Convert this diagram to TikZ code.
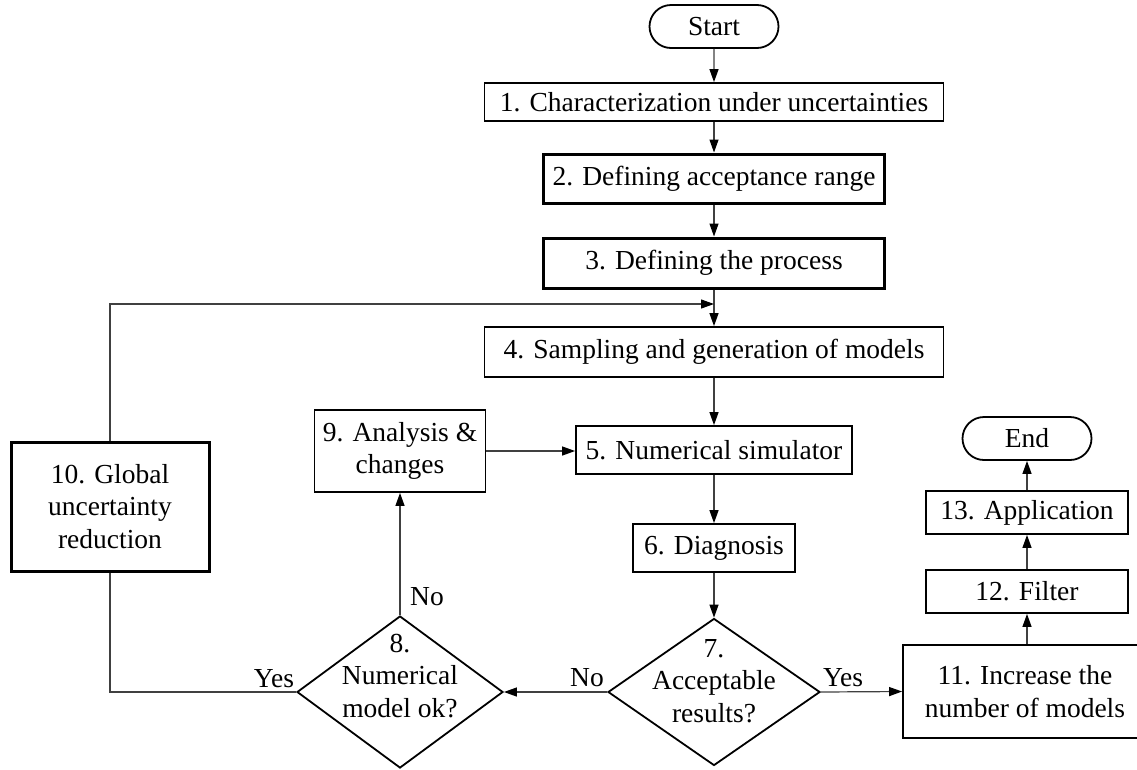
\documentclass[tikz,border=0pt]{standalone}
\usepackage{fontspec}
\setmainfont{Liberation Serif}
\usetikzlibrary{shapes.misc,shapes.geometric,arrows.meta}
\begin{document}
\begin{tikzpicture}[x=1pt,y=-1pt,
  every node/.style={font=\fontsize{27.5}{32.5}\selectfont},
  box/.style={draw, line width=1.8pt, rectangle, inner sep=0pt, align=center},
  thickbox/.style={box, line width=3pt},
  term/.style={draw, line width=1.8pt, rounded rectangle, inner sep=0pt},
  dia/.style={draw, line width=1.8pt, diamond, inner sep=0pt},
  conn/.style={line width=1.2pt, draw=black!75},
  arr/.style={conn, -{Triangle[length=13pt,width=9pt,color=black]}},
  lab/.style={anchor=base, inner sep=0pt},
]
\useasboundingbox (0,0) rectangle (1137,769);
\clip (0,0) rectangle (1137,769);

% central column
\node[term, minimum width=129pt, minimum height=43pt] (start) at (714,26.5) {Start};
\node[box, minimum width=459pt, minimum height=38pt] (b1) at (714,102) {1. Characterization under uncertainties};
\node[thickbox, minimum width=341pt, minimum height=49pt] (b2) at (714,178.5) {2. Defining acceptance range};
\node[thickbox, minimum width=341pt, minimum height=50pt] (b3) at (714,263) {3. Defining the process};
\node[box, minimum width=459pt, minimum height=50pt] (b4) at (714,352) {4. Sampling and generation of models};
\node[box, minimum width=276pt, minimum height=48pt] (b5) at (714,450) {5. Numerical simulator};
\node[box, minimum width=162pt, minimum height=48pt] (b6) at (714,548) {6. Diagnosis};
\node[dia, minimum width=212pt, minimum height=147pt,
      label={[name=d7t, align=center, yshift=11pt, inner sep=0pt]center:{7.\\Acceptable\\results?}}] (d7) at (714,692) {};

% left part
\node[dia, minimum width=206pt, minimum height=152pt,
      label={[name=d8t, align=center, yshift=16pt, inner sep=0pt]center:{8.\\Numerical\\model ok?}}] (d8) at (400,692) {};
\node[box, minimum width=171pt, minimum height=82pt] (b9) at (400,451) {9. Analysis \&\\changes};
\node[thickbox, minimum width=198pt, minimum height=129pt] (b10) at (110,506.5) {10. Global\\uncertainty\\reduction};

% right column
\node[box, minimum width=244pt, minimum height=93pt] (b11) at (1025,691.5) {11. Increase the\\number of models};
\node[box, minimum width=202pt, minimum height=43pt] (b12) at (1027,591.5) {12. Filter};
\node[box, minimum width=202pt, minimum height=43pt] (b13) at (1027,512.5) {13. Application};
\node[term, minimum width=129pt, minimum height=43pt] (end) at (1027,438.5) {End};

% labels
\node[lab] (l8no) at (427,605) {No};
\node[lab] (l8yes) at (274,687) {Yes};
\node[lab] (l7no) at (587,686) {No};
\node[lab] (l7yes) at (843,686) {Yes};

\coordinate (fb) at (714,304);

% connectors
\draw[arr] (start) -- (b1);
\draw[arr] (b1) -- (b2);
\draw[arr] (b2) -- (b3);
\draw[arr] (b3) -- (b4);
\draw[arr] (b4) -- (b5);
\draw[arr] (b5) -- (b6);
\draw[arr] (b6) -- (d7.north);
\draw[arr] (d7.west) -- (d8.east);
\draw[arr] (d7.east) -- (b11.west);
\draw[arr] (d8.north) -- (b9.south);
\draw[arr] (b9.east) -- (b5.west |- b9.east);
\draw[conn] (d8.west) -| (b10.south);
\draw[arr] (b10.north) |- (fb);
\draw[arr] (b11.north -| b12.south) -- (b12.south);
\draw[arr] (b12) -- (b13);
\draw[arr] (b13) -- (end);
\end{tikzpicture}
\end{document}
